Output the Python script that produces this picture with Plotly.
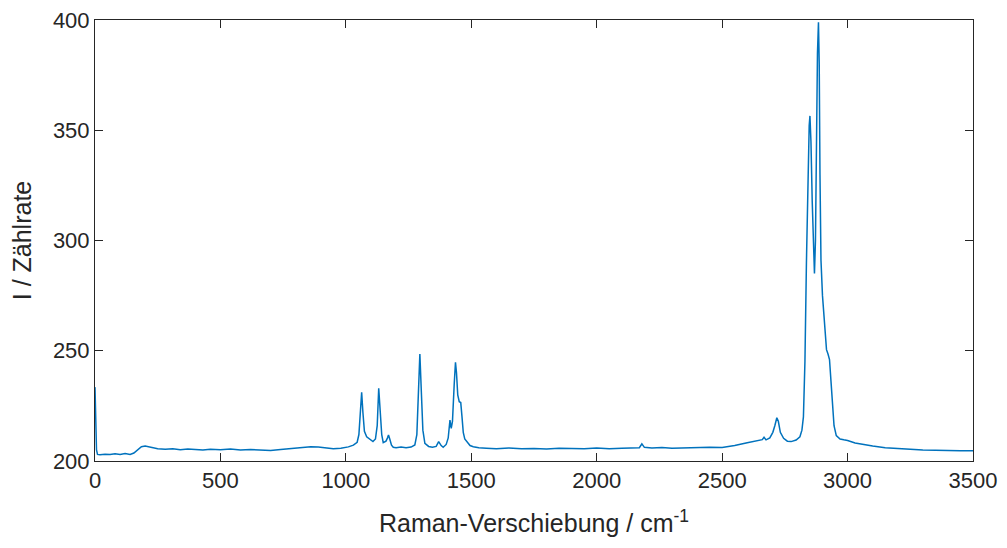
import plotly.graph_objects as go

# Raman shift (cm^-1) and intensity (counts)
shift = [0, 3, 6, 10, 20, 40, 60, 80, 100, 120, 140, 155, 170, 185, 200, 215, 230, 250,
         280, 310, 340, 370, 400, 430, 460, 500, 540, 580, 620, 660, 700, 740, 780, 820,
         860, 890, 920, 950, 980, 1010, 1030, 1045, 1052, 1058, 1063, 1068, 1074, 1083,
         1095, 1108, 1118, 1125, 1131, 1137, 1143, 1149, 1160, 1166, 1170, 1175, 1182,
         1189, 1200, 1220, 1240, 1260, 1275, 1283, 1289, 1295, 1300, 1307, 1315, 1330,
         1345, 1360, 1370, 1380, 1388, 1400, 1408, 1415, 1420, 1425, 1432, 1437, 1441,
         1446, 1452, 1458, 1463, 1468, 1474, 1481, 1495, 1508, 1530, 1560, 1600, 1650,
         1700, 1750, 1800, 1850, 1900, 1950, 2000, 2050, 2100, 2150, 2170, 2180, 2190,
         2220, 2260, 2300, 2350, 2400, 2450, 2500, 2550, 2600, 2640, 2660, 2667, 2675,
         2690, 2702, 2710, 2718, 2724, 2732, 2745, 2760, 2775, 2795, 2810, 2818, 2824,
         2830, 2836, 2842, 2847, 2850, 2854, 2859, 2864, 2868, 2872, 2876, 2880, 2884,
         2887, 2890, 2894, 2900, 2910, 2916, 2922, 2928, 2934, 2940, 2946, 2955, 2970,
         2985, 3000, 3030, 3060, 3100, 3150, 3200, 3250, 3300, 3350, 3400, 3450, 3500]

intensity = [233.5, 215.0, 205.0, 203.0, 202.8, 203.1, 202.9, 203.3, 203.0, 203.4, 203.0,
             203.6, 205.2, 206.5, 206.8, 206.4, 205.8, 205.6, 205.3, 205.5, 205.1, 205.4,
             205.2, 205.0, 205.3, 205.1, 205.4, 205.0, 205.2, 204.9, 204.8, 205.2, 205.6,
             205.9, 206.5, 206.4, 206.0, 205.6, 205.8, 206.4, 207.2, 208.5, 212.0, 222.0,
             231.2, 222.0, 213.5, 211.0, 210.0, 208.8, 210.0, 216.0, 233.0, 222.0, 212.0,
             208.3, 209.0, 210.5, 211.8, 210.0, 207.2, 206.2, 206.0, 206.3, 206.0, 206.3,
             207.3, 212.0, 230.0, 248.5, 234.0, 214.0, 208.0, 206.6, 206.2, 206.6, 208.8,
             207.0, 206.2, 207.5, 210.5, 218.6, 214.8, 218.0, 235.0, 244.8, 240.0, 230.0,
             226.9, 226.5, 220.0, 213.0, 210.0, 209.0, 207.0, 206.5, 206.0, 205.8, 205.6,
             205.9, 205.5, 205.7, 205.4, 205.8, 205.6, 205.5, 205.9, 205.6, 205.8, 205.7,
             206.0, 207.8, 206.2, 205.9, 206.1, 205.8, 206.0, 205.9, 206.2, 206.1, 207.0,
             208.3, 209.3, 209.7, 210.8, 209.6, 210.5, 213.0, 216.0, 219.6, 218.0, 213.0,
             210.3, 209.0, 208.8, 209.5, 211.0, 214.0, 220.0, 245.0, 290.0, 330.0, 352.0,
             356.5, 345.0, 318.0, 292.0, 285.0, 300.0, 345.0, 385.0, 399.0, 380.0, 330.0,
             291.0, 275.0, 258.0, 250.5, 248.5, 246.0, 236.0, 224.0, 216.0, 211.5, 210.0,
             209.6, 209.3, 208.2, 207.5, 206.8, 206.0, 205.5, 205.3, 205.0, 205.0, 204.8,
             204.7, 204.6]

x_ticks = [0, 500, 1000, 1500, 2000, 2500, 3000, 3500]
y_ticks = [200, 250, 300, 350, 400]

fig = go.Figure(go.Scatter(x=shift, y=intensity, mode="lines",
                           line=dict(color="#0072BD", width=1.5)))

axis_common = dict(showgrid=False, zeroline=False, showline=True, linecolor="#262626",
                   linewidth=1, mirror="ticks", ticks="inside", ticklen=8,
                   tickcolor="#262626", tickfont=dict(size=22, color="#262626"),
                   ticklabeloverflow="allow", automargin=False)

fig.update_xaxes(range=[0, 3500], tickvals=x_ticks, **axis_common,
                 title=dict(text="Raman-Verschiebung / cm<sup>-1</sup>",
                            font=dict(size=25, color="#262626"), standoff=22))
fig.update_yaxes(range=[200, 400], tickvals=y_ticks, **axis_common,
                 title=dict(text="I / Zählrate", font=dict(size=25, color="#262626"),
                            standoff=15))

fig.update_layout(width=1007, height=548, plot_bgcolor="white", paper_bgcolor="white",
                  margin=dict(l=87, r=42, t=12, b=95), showlegend=False,
                  font=dict(family="Liberation Sans, Arial, sans-serif"))

fig.write_html("out.html")
